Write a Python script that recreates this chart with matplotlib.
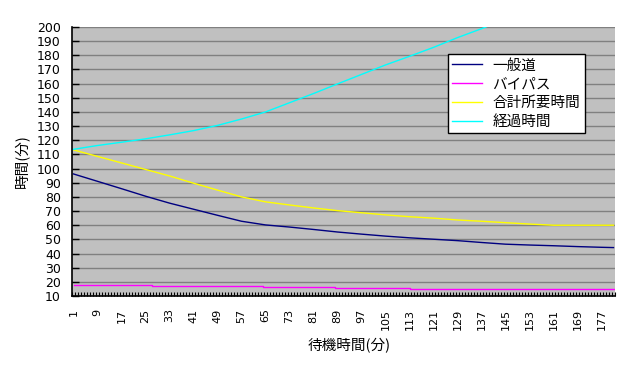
import matplotlib
matplotlib.use("Agg")
import matplotlib.pyplot as plt
import numpy as np

plt.rcParams['font.family'] = ['Noto Sans CJK JP', 'DejaVu Sans']

# x axis: waiting time in minutes, one category per minute
n_cat = 181
tick_cats = list(range(1, 178, 8))

# values at these categories
x_pts = [1, 9, 17, 25, 33, 41, 49, 57, 65, 73, 81, 89, 97, 105, 113,
         121, 129, 137, 145, 153, 161, 169, 177, 181]
ippan = [96.2, 91.0, 85.8, 80.5, 75.6, 71.3, 67.0, 62.8, 60.2, 58.7, 57.0, 55.2,
         53.7, 52.3, 51.1, 50.1, 49.1, 47.8, 46.6, 46.0, 45.5, 44.9, 44.4, 44.2]
goukei = [113.2, 108.6, 104.0, 99.4, 94.8, 89.7, 84.8, 80.0, 76.5, 74.3, 72.2, 70.3,
          68.8, 67.3, 66.0, 65.0, 63.7, 62.8, 61.8, 60.8, 60.0, 60.0, 60.0, 60.0]

x_keika = [1, 9, 17, 25, 33, 41, 49, 57, 65, 73, 81, 89, 97, 105, 113,
           121, 129, 137, 145]
keika = [113.6, 116.3, 118.6, 121.0, 123.8, 126.8, 130.5, 135.0, 140.0, 146.5,
         153.0, 159.8, 166.5, 173.2, 179.3, 185.6, 192.5, 198.8, 205.5]

# bypass is flat with small steps
x_bypass = [1, 27, 64, 88, 113, 181]
bypass = [17.8, 17.1, 16.2, 15.5, 14.8, 14.8]

fig = plt.figure(figsize=(6.33, 3.66), dpi=100)
ax = fig.add_axes([72/633, 1-296/366, 543/633, 269/366])
ax.set_facecolor('#C0C0C0')

ax.plot(x_pts, ippan, color='#000080', lw=1.0, label='一般道')
ax.plot(x_bypass, bypass, color='#FF00FF', lw=1.0, drawstyle='steps-post', label='バイパス')
ax.plot(x_pts, goukei, color='#FFFF00', lw=1.0, label='合計所要時間')
ax.plot(x_keika, keika, color='#00FFFF', lw=1.0, label='経過時間')

ax.set_xlim(0.5, n_cat + 0.5)
ax.set_ylim(10, 200)
ax.set_yticks(range(10, 201, 10))
ax.grid(axis='y', color='#808080', lw=1.0)
ax.set_axisbelow(True)

ax.set_xticks(tick_cats)
ax.set_xticklabels([str(c) for c in tick_cats], rotation=90, fontsize=8,
                   family='DejaVu Sans')
ax.set_xticks(np.arange(0.5, n_cat + 1, 1), minor=True)
ax.tick_params(axis='x', which='major', length=0, pad=9)
ax.tick_params(axis='x', which='minor', direction='in', length=3, width=0.8)
ax.tick_params(axis='y', direction='in', length=5, width=1, pad=8)
for t in ax.get_yticklabels():
    t.set_family('DejaVu Sans')
    t.set_fontsize(9)

for s in ['top', 'right']:
    ax.spines[s].set_visible(False)
ax.spines['left'].set_linewidth(1.2)
ax.spines['bottom'].set_linewidth(1.2)

ax.set_xlabel('待機時間(分)', fontsize=10.5)
ax.xaxis.set_label_coords(0.51, -0.155)
ax.set_ylabel('時間(分)', fontsize=10.5)
ax.yaxis.set_label_coords(-0.077, 0.5)

leg = ax.legend(loc='upper left', bbox_to_anchor=(448/633, 1-54/366),
                bbox_transform=fig.transFigure, borderaxespad=0, fontsize=10.5,
                fancybox=False, framealpha=1, edgecolor='black',
                handlelength=2.05, handletextpad=0.7, borderpad=0.3,
                labelspacing=0.33)
leg.get_frame().set_linewidth(1.0)

fig.savefig('out.png', dpi=100)
